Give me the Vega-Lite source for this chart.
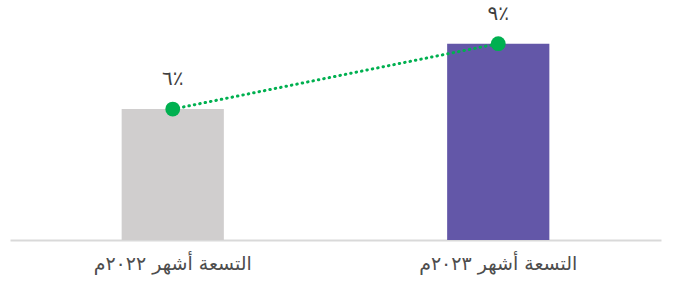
{
  "$schema": "https://vega.github.io/schema/vega-lite/v6.json",
  "width": 651,
  "height": 240,
  "autosize": {"type": "none"},
  "padding": {"left": 10, "top": 0, "right": 22, "bottom": 44},
  "background": "white",
  "config": {"view": {"stroke": null}, "font": "DejaVu Sans"},
  "data": {"values": [
    {"period": "التسعة أشهر ٢٠٢٢م", "value": 6, "label": "٦٪"},
    {"period": "التسعة أشهر ٢٠٢٣م", "value": 9, "label": "٩٪"}
  ]},
  "encoding": {
    "x": {"field": "period", "type": "nominal", "sort": null,
      "scale": {"paddingInner": 0.686, "paddingOuter": 0.343},
      "axis": {"title": null, "labelAngle": 0, "ticks": false, "domainColor": "#d9d9d9", "domainWidth": 2,
        "labelFontSize": 19, "labelColor": "#4d4d4d", "labelPadding": 14, "grid": false}},
    "y": {"field": "value", "type": "quantitative", "scale": {"domain": [0, 11]}, "axis": null}
  },
  "layer": [
    {"mark": {"type": "bar"},
     "encoding": {"color": {"field": "period", "type": "nominal", "legend": null,
       "scale": {"range": ["#d0cece", "#6357a8"]}}}},
    {"mark": {"type": "line", "color": "#00b050", "strokeWidth": 3, "strokeDash": [0.5, 5], "strokeCap": "round"}},
    {"mark": {"type": "point", "filled": true, "color": "#00b050", "size": 220, "opacity": 1}},
    {"mark": {"type": "text", "dy": -30, "fontSize": 20, "color": "#404040", "baseline": "middle"},
     "encoding": {"text": {"field": "label"}}}
  ]
}
